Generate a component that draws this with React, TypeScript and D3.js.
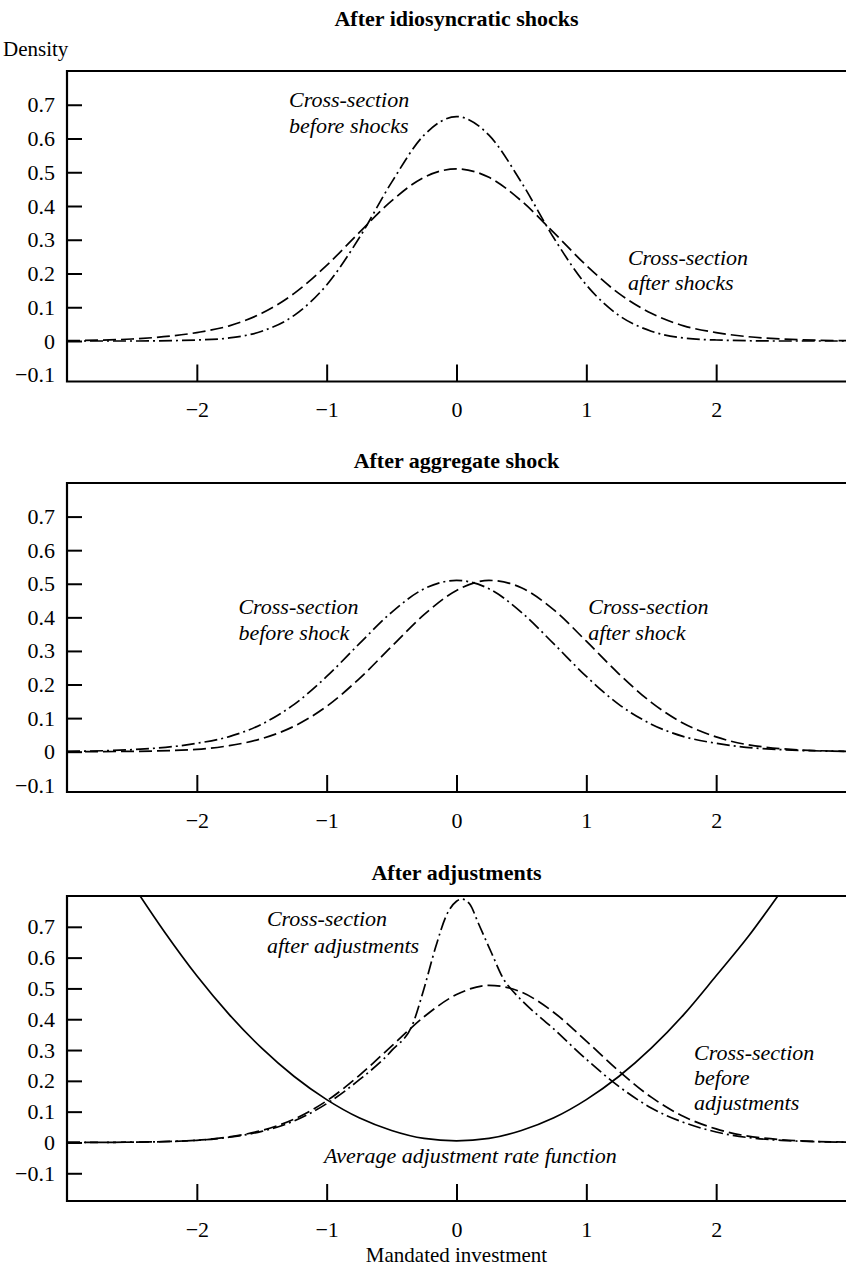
import React, { useEffect, useRef } from 'react';
import * as d3 from 'd3';

const W = 846;
const H = 1272;

// mandated investment grid used by most density curves
const grid = [-3, -2.5, -2, -1.75, -1.5, -1.25, -1, -0.75, -0.5, -0.25, 0, 0.25, 0.5, 0.75, 1, 1.25, 1.5, 1.75, 2, 2.5, 3];

// After idiosyncratic shocks
const beforeShocks = [0, 0, 0.003, 0.009, 0.029, 0.076, 0.166, 0.305, 0.47, 0.61, 0.665, 0.61, 0.47, 0.305, 0.166, 0.076, 0.029, 0.009, 0.003, 0, 0];
const afterShocks = [0.001, 0.006, 0.025, 0.045, 0.082, 0.141, 0.224, 0.321, 0.415, 0.485, 0.51, 0.485, 0.415, 0.321, 0.224, 0.141, 0.082, 0.045, 0.025, 0.006, 0.001];

// After aggregate shock
const beforeShock = [0.001, 0.006, 0.025, 0.045, 0.082, 0.141, 0.224, 0.321, 0.415, 0.485, 0.51, 0.485, 0.415, 0.321, 0.224, 0.141, 0.082, 0.045, 0.025, 0.006, 0.001];
const afterShock = [0, 0.001, 0.007, 0.018, 0.039, 0.076, 0.135, 0.217, 0.313, 0.408, 0.48, 0.51, 0.488, 0.422, 0.329, 0.232, 0.147, 0.084, 0.044, 0.009, 0.001];

// After adjustments
const beforeAdjust = [0, 0.001, 0.007, 0.018, 0.039, 0.076, 0.135, 0.217, 0.313, 0.408, 0.48, 0.51, 0.488, 0.422, 0.329, 0.232, 0.147, 0.084, 0.044, 0.009, 0.001];
const adjustX = [-3, -2.5, -2, -1.75, -1.5, -1.25, -1, -0.75, -0.5, -0.33, -0.25, -0.16, -0.08, 0, 0.04, 0.1, 0.17, 0.27, 0.37, 0.42, 0.5, 0.75, 1, 1.25, 1.5, 1.75, 2, 2.5, 3];
const afterAdjust = [0, 0.001, 0.007, 0.017, 0.036, 0.07, 0.126, 0.203, 0.298, 0.392, 0.5, 0.635, 0.735, 0.783, 0.79, 0.775, 0.71, 0.615, 0.525, 0.498, 0.462, 0.368, 0.27, 0.182, 0.112, 0.065, 0.034, 0.007, 0.001];
const rateX = [-2.5, -2.25, -2, -1.75, -1.5, -1.25, -1, -0.75, -0.5, -0.25, 0, 0.25, 0.5, 0.75, 1, 1.25, 1.5, 1.75, 2, 2.25, 2.5];
const rateY = [0.84, 0.684, 0.541, 0.415, 0.306, 0.214, 0.139, 0.08, 0.039, 0.013, 0.005, 0.013, 0.039, 0.08, 0.139, 0.214, 0.306, 0.415, 0.541, 0.67, 0.815];

const xTicks = [-2, -1, 0, 1, 2];
const yTicks = [-0.1, 0, 0.1, 0.2, 0.3, 0.4, 0.5, 0.6, 0.7];

const DASH = '13,5';
const DASH_DOT = '13,4,2,4';

type Curve = { xs: number[]; ys: number[]; dash: string | null };
type Note = { lines: string[]; x: number; y: number; step: number };

const panels = [
  {
    title: 'After idiosyncratic shocks', top: 71, bottom: 381.5, yMin: -0.12, titleY: 26,
    curves: [
      { xs: grid, ys: beforeShocks, dash: DASH_DOT },
      { xs: grid, ys: afterShocks, dash: DASH },
    ] as Curve[],
    notes: [
      { lines: ['Cross-section', 'before shocks'], x: -1.29, y: 0.693, step: 26 },
      { lines: ['Cross-section', 'after shocks'], x: 1.32, y: 0.225, step: 25 },
    ] as Note[],
  },
  {
    title: 'After aggregate shock', top: 483, bottom: 792, yMin: -0.12, titleY: 468,
    curves: [
      { xs: grid, ys: beforeShock, dash: DASH_DOT },
      { xs: grid, ys: afterShock, dash: DASH },
    ] as Curve[],
    notes: [
      { lines: ['Cross-section', 'before shock'], x: -1.68, y: 0.41, step: 26 },
      { lines: ['Cross-section', 'after shock'], x: 1.015, y: 0.41, step: 26 },
    ] as Note[],
  },
  {
    title: 'After adjustments', top: 896, bottom: 1201, yMin: -0.19, titleY: 880,
    curves: [
      { xs: rateX, ys: rateY, dash: null },
      { xs: grid, ys: beforeAdjust, dash: DASH },
      { xs: adjustX, ys: afterAdjust, dash: DASH_DOT },
    ] as Curve[],
    notes: [
      { lines: ['Cross-section', 'after adjustments'], x: -1.46, y: 0.703, step: 27 },
      { lines: ['Average adjustment rate function'], x: -1.02, y: -0.067, step: 0 },
      { lines: ['Cross-section', 'before', 'adjustments'], x: 1.83, y: 0.268, step: 25 },
    ] as Note[],
  },
];

const fmt = (v: number) => (v < 0 ? '\u2212' + Math.abs(v) : String(v));

export default function App() {
  const svgRef = useRef<SVGSVGElement>(null);

  useEffect(() => {
    if (!svgRef.current) return;
    const svg = d3.select(svgRef.current);
    svg.selectAll('*').remove();

    const x = d3.scaleLinear().domain([-3, 3]).range([67, 846]);

    panels.forEach((p, i) => {
      const y = d3.scaleLinear().domain([p.yMin, 0.8]).range([p.bottom, p.top]);
      const g = svg.append('g');

      // clip the curves to the plot box
      const clipId = `clip-${i}`;
      svg.append('clipPath').attr('id', clipId)
        .append('rect')
        .attr('x', x(-3)).attr('y', p.top)
        .attr('width', x(3) - x(-3)).attr('height', p.bottom - p.top);

      g.append('text')
        .attr('x', x(0)).attr('y', p.titleY)
        .attr('text-anchor', 'middle')
        .attr('font-weight', 'bold')
        .attr('font-size', 22)
        .text(p.title);

      // y axis with inward ticks; the -0.1 tick only shows when it clears the bottom axis
      const yAxis = g.append('g')
        .attr('transform', `translate(${x(-3)},0)`)
        .call(d3.axisLeft(y).tickValues(yTicks).tickSizeInner(-15).tickSizeOuter(0).tickPadding(12).tickFormat(d => fmt(+d)));
      yAxis.select('.domain').remove();
      yAxis.selectAll('line').attr('stroke-width', 2)
        .filter(d => p.bottom - y(d as number) < 10).remove();
      yAxis.selectAll('text').attr('font-size', 22).attr('font-family', 'Liberation Serif');

      // x axis with inward ticks
      const xAxis = g.append('g')
        .attr('transform', `translate(0,${p.bottom})`)
        .call(d3.axisBottom(x).tickValues(xTicks).tickSizeInner(-17).tickSizeOuter(0).tickPadding(20).tickFormat(d => fmt(+d)));
      xAxis.select('.domain').remove();
      xAxis.selectAll('line').attr('stroke-width', 2);
      xAxis.selectAll('text').attr('font-size', 22).attr('font-family', 'Liberation Serif');

      // frame: left, top, bottom
      g.append('path')
        .attr('d', `M${x(3)},${p.top}H${x(-3)}V${p.bottom}H${x(3)}`)
        .attr('fill', 'none').attr('stroke', '#000').attr('stroke-width', 2.2);

      const curves = g.append('g').attr('clip-path', `url(#${clipId})`);
      p.curves.forEach(c => {
        const pts = c.xs.map((v, k) => [v, c.ys[k]] as [number, number]);
        const line = d3.line<[number, number]>()
          .x(d => x(d[0]))
          .y(d => y(d[1]))
          .curve(d3.curveMonotoneX);
        curves.append('path')
          .datum(pts)
          .attr('fill', 'none')
          .attr('stroke', '#000')
          .attr('stroke-width', 1.7)
          .attr('stroke-dasharray', c.dash)
          .attr('d', line);
      });

      p.notes.forEach(n => {
        const t = g.append('text')
          .attr('font-style', 'italic')
          .attr('font-size', 22)
          .attr('x', x(n.x)).attr('y', y(n.y));
        n.lines.forEach((l, k) => {
          t.append('tspan').attr('x', x(n.x)).attr('y', y(n.y) + k * n.step).text(l);
        });
      });
    });

    svg.append('text')
      .attr('x', 3).attr('y', 56)
      .attr('font-size', 21)
      .text('Density');

    svg.append('text')
      .attr('x', x(0)).attr('y', 1262)
      .attr('text-anchor', 'middle')
      .attr('font-size', 21)
      .text('Mandated investment');
  }, []);

  return (
    <svg
      ref={svgRef}
      width={W}
      height={H}
      style={{ position: 'absolute', left: 0, top: 0, background: '#fff' }}
      fontFamily="'Liberation Serif', 'Times New Roman', serif"
    />
  );
}
